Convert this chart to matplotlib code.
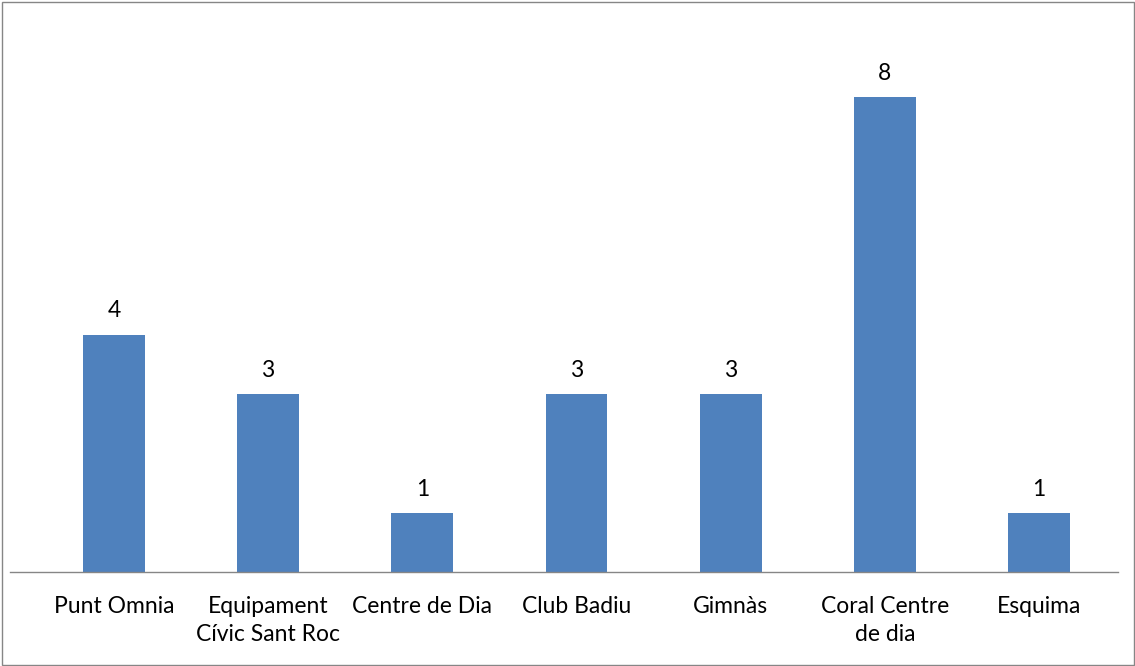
import matplotlib.pyplot as plt
from matplotlib.patches import Rectangle

# dades del gràfic
categories = [
    "Punt Omnia",
    "Equipament\nCívic Sant Roc",
    "Centre de Dia",
    "Club Badiu",
    "Gimnàs",
    "Coral Centre\nde dia",
    "Esquima",
]
values = [4, 3, 1, 3, 3, 8, 1]

BAR_COLOR = "#4F81BD"

plt.rcParams["font.family"] = ["Lato", "DejaVu Sans"]

W, H = 1135, 666
fig = plt.figure(figsize=(W / 100, H / 100), dpi=100)

# eixos en coordenades de píxel: de x=10 a 1118, de y=20 a 572
left, right, top, bottom = 10, 1118, 20, 572
ax = fig.add_axes([left / W, 1 - bottom / H, (right - left) / W, (bottom - top) / H])

x = list(range(len(categories)))
ax.bar(x, values, width=0.40, color=BAR_COLOR, zorder=2)

for xi, v in zip(x, values):
    ax.annotate(str(v), (xi, v), xytext=(0, 17), textcoords="offset points",
                ha="center", va="center", fontsize=16.5, color="black")

ax.set_xlim(-0.674, 6.512)
ax.set_ylim(0, 9.3)
ax.set_xticks(x)
ax.set_xticklabels(categories, fontsize=16.5, linespacing=1.45)
ax.tick_params(axis="x", length=0, pad=17)
ax.set_yticks([])

for s in ["top", "right", "left"]:
    ax.spines[s].set_visible(False)
ax.spines["bottom"].set_color("#868686")
ax.spines["bottom"].set_linewidth(1)

# marc exterior del gràfic
fig.patches.append(Rectangle((1.5 / W, 1.5 / H), (W - 3) / W, (H - 3) / H,
                             transform=fig.transFigure, fill=False,
                             edgecolor="#868686", linewidth=1))

fig.savefig("out.png", dpi=100)
